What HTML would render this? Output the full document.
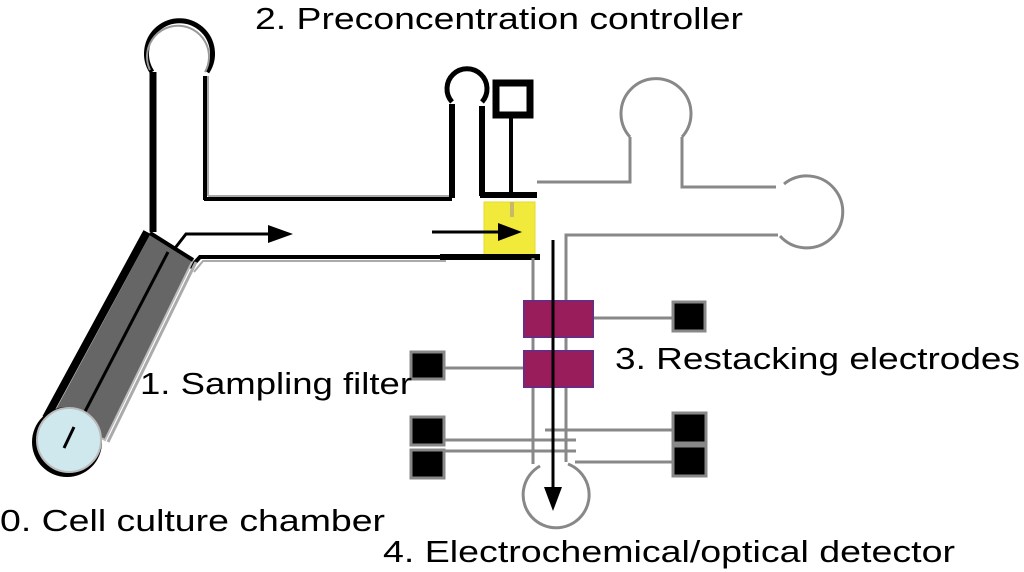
<!DOCTYPE html>
<html><head><meta charset="utf-8"><style>
html,body{margin:0;padding:0;background:#fff;width:1024px;height:572px;overflow:hidden}
text{font-family:"Liberation Sans",sans-serif;font-size:31px;fill:#000}
</style></head><body>
<svg width="1024" height="572" viewBox="0 0 1024 572" xmlns="http://www.w3.org/2000/svg">
<!-- top-left reservoir -->
<path d="M152 72 A33 33 0 1 1 207 72" fill="none" stroke="#000" stroke-width="5"/>
<path d="M150 70 A31 31 0 1 1 205 72" fill="none" stroke="#999" stroke-width="2"/>
<line x1="153" y1="72" x2="153" y2="232" stroke="#000" stroke-width="7"/>
<line x1="205" y1="76" x2="205" y2="200" stroke="#000" stroke-width="4"/>
<line x1="208" y1="76" x2="208" y2="196" stroke="#aaa" stroke-width="2"/>
<line x1="204" y1="199" x2="452" y2="199" stroke="#000" stroke-width="4"/>
<line x1="208" y1="196" x2="452" y2="196" stroke="#aaa" stroke-width="2"/>
<!-- small reservoir -->
<path d="M452 102 A20 20 0 1 1 482 102" fill="none" stroke="#000" stroke-width="5"/>
<line x1="452" y1="104" x2="452" y2="198" stroke="#000" stroke-width="6"/>
<line x1="482" y1="106" x2="482" y2="196" stroke="#000" stroke-width="6"/>
<!-- control box -->
<rect x="496" y="83" width="34" height="32" fill="none" stroke="#000" stroke-width="7"/>
<line x1="511" y1="115" x2="511" y2="195" stroke="#000" stroke-width="4"/>
<line x1="480" y1="195" x2="537" y2="195" stroke="#000" stroke-width="6"/>
<!-- yellow -->
<rect x="484" y="202" width="51" height="53" fill="#f2ea3a" stroke="#e2da30" stroke-width="1"/>
<line x1="512" y1="202" x2="512" y2="217" stroke="#c8b86a" stroke-width="4"/>
<!-- bottom channel -->
<polyline points="190,268 200,257 446,257" fill="none" stroke="#000" stroke-width="4"/>
<polyline points="194,272 203,261 446,261" fill="none" stroke="#aaa" stroke-width="2"/>
<line x1="440" y1="257" x2="540" y2="257" stroke="#000" stroke-width="6"/>
<!-- arrows -->
<polyline points="172,252 186,234 270,234" fill="none" stroke="#000" stroke-width="3"/>
<polygon points="268,225 293,234 268,243" fill="#000"/>
<line x1="432" y1="232" x2="500" y2="232" stroke="#000" stroke-width="3"/>
<polygon points="498,223 522,232 498,241" fill="#000"/>
<!-- filter strip -->
<polygon points="150,233 193,260 105,440 53,413" fill="#666" stroke="#bbb" stroke-width="2"/>
<line x1="147" y1="232" x2="46" y2="418" stroke="#000" stroke-width="8"/>
<line x1="196" y1="262" x2="108" y2="442" stroke="#aaa" stroke-width="3"/>
<line x1="168" y1="252" x2="78" y2="425" stroke="#000" stroke-width="3"/>
<line x1="150" y1="233" x2="193" y2="260" stroke="#000" stroke-width="4"/>
<!-- culture chamber -->
<circle cx="67" cy="442" r="35" fill="#000"/>
<circle cx="69" cy="440" r="32" fill="#cfe8ee" stroke="#bbb" stroke-width="2"/>
<line x1="74" y1="427" x2="64" y2="448" stroke="#000" stroke-width="3"/>
<!-- gray right network -->
<g fill="none" stroke="#888" stroke-width="3">
<polyline points="537,182 630,182 630,137"/>
<path d="M630 137 A35 35 0 1 1 682 137"/>
<polyline points="682,137 682,187 776,187"/>
<path d="M784 184 A36 36 0 1 1 780 236"/>
<polyline points="778,235 566,235 566,462"/>
<line x1="533" y1="258" x2="533" y2="464"/>
<path d="M540 466 A33 33 0 1 0 568 464"/>
<line x1="593" y1="318" x2="672" y2="318"/>
<line x1="444" y1="368" x2="524" y2="368"/>
<line x1="444" y1="440" x2="576" y2="440"/>
<line x1="444" y1="451" x2="576" y2="451"/>
<line x1="545" y1="430" x2="672" y2="430"/>
<line x1="575" y1="462" x2="672" y2="462"/>
</g>
<!-- electrodes -->
<rect x="524" y="301" width="69" height="36" fill="#991d5b" stroke="#6e2a7e" stroke-width="2"/>
<rect x="524" y="351" width="69" height="36" fill="#991d5b" stroke="#6e2a7e" stroke-width="2"/>
<g fill="#000" stroke="#888" stroke-width="3">
<rect x="673" y="302" width="32" height="29"/>
<rect x="411" y="352" width="33" height="27"/>
<rect x="411" y="417" width="33" height="28"/>
<rect x="411" y="450" width="33" height="28"/>
<rect x="673" y="413" width="33" height="30"/>
<rect x="673" y="446" width="33" height="30"/>
</g>
<!-- detector arrow -->
<line x1="553" y1="240" x2="553" y2="490" stroke="#000" stroke-width="3"/>
<polygon points="544,487 562,487 553,511" fill="#000"/>
<!-- labels -->
<text x="255" y="29" textLength="488" lengthAdjust="spacingAndGlyphs">2. Preconcentration controller</text>
<text x="615" y="369" textLength="405" lengthAdjust="spacingAndGlyphs">3. Restacking electrodes</text>
<text x="140" y="394" textLength="272" lengthAdjust="spacingAndGlyphs">1. Sampling filter</text>
<text x="0" y="531" textLength="385" lengthAdjust="spacingAndGlyphs">0. Cell culture chamber</text>
<text x="383" y="562" textLength="572" lengthAdjust="spacingAndGlyphs">4. Electrochemical/optical detector</text>
</svg>
</body></html>
